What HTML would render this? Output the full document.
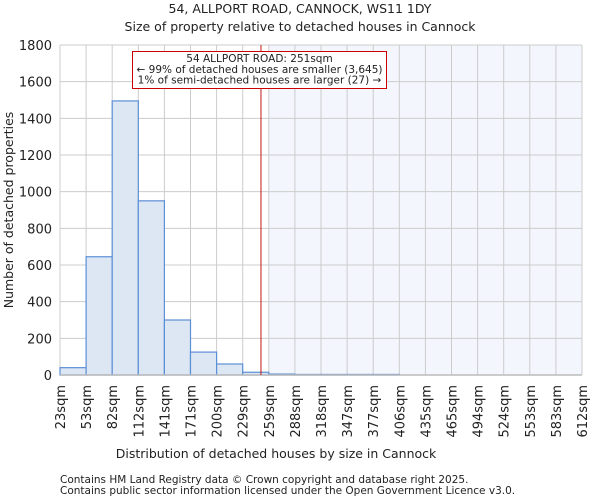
<!DOCTYPE html>
<html><head><meta charset="utf-8"><style>
body{margin:0;background:#fff;font-family:"DejaVu Sans","Liberation Sans",sans-serif}
svg text{font-family:"DejaVu Sans","Liberation Sans",sans-serif;fill:#222}
</style></head><body>
<svg id="c" width="600" height="500">
<text x="300" y="13" text-anchor="middle" font-size="12.5">54, ALLPORT ROAD, CANNOCK, WS11 1DY</text>
<text x="300" y="31" text-anchor="middle" font-size="12.5">Size of property relative to detached houses in Cannock</text>
<g id="plot"></g>
<text x="276" y="458" text-anchor="middle" font-size="12.5">Distribution of detached houses by size in Cannock</text>
<text transform="translate(13,210) rotate(-90)" text-anchor="middle" font-size="12.5" fill="#444">Number of detached properties</text>
<text x="60" y="483" font-size="10.5" fill="#444">Contains HM Land Registry data © Crown copyright and database right 2025.</text>
<text x="60" y="494" font-size="10.5" fill="#444">Contains public sector information licensed under the Open Government Licence v3.0.</text>
</svg>
<script>
const categories=["23sqm","53sqm","82sqm","112sqm","141sqm","171sqm","200sqm","229sqm","259sqm","288sqm","318sqm","347sqm","377sqm","406sqm","435sqm","465sqm","494sqm","524sqm","553sqm","583sqm","612sqm"];
const counts=[40,645,1495,950,300,125,60,15,5,3,3,3,3,0,0,0,0,0,0,0];
const yTicks=[0,200,400,600,800,1000,1200,1400,1600,1800];
const markerBin=7.7;
const highlightFromBin=8;
const NS="http://www.w3.org/2000/svg";
const X0=60,X1=582,YT=45,YB=375,YMAX=1800;
const bw=(X1-X0)/counts.length;
const xs=i=>X0+i*bw;
const ys=v=>YB-v/YMAX*(YB-YT);
const g=document.getElementById('plot');
function mk(t,a){const e=document.createElementNS(NS,t);for(const k in a)e.setAttribute(k,a[k]);g.appendChild(e);return e;}
let e=mk('rect',{x:xs(highlightFromBin),y:YT,width:X1-xs(highlightFromBin),height:YB-YT,fill:'#f3f6fd'});


for(let i=0;i<=categories.length-1;i++){
 e=mk('line',{x1:xs(i),x2:xs(i),y1:YT,y2:YB,stroke:'#ccc','stroke-width':1});
 
 
}
yTicks.forEach(t=>{
 e=mk('line',{x1:X0,x2:X1,y1:ys(t),y2:ys(t),stroke:'#ccc','stroke-width':1});
 
 
 e=mk('text',{x:X0-8,y:ys(t)+5,'text-anchor':'end','font-size':'13'});e.textContent=t;
 
 
});
counts.forEach((v,i)=>{
 if(v<=0)return;
 e=mk('rect',{x:xs(i),y:ys(v),width:bw,height:YB-ys(v),fill:'#dde6f3',stroke:'#5b8fd6','stroke-width':1.2});
 
 
});
e=mk('line',{x1:X0,x2:X1,y1:YB,y2:YB,stroke:'#bbb','stroke-width':1.5});


categories.forEach((c,i)=>{
 e=mk('text',{transform:`translate(${xs(i)+5},385) rotate(-90)`,'text-anchor':'end','font-size':'13'});e.textContent=c;
 
 
});
const mx=xs(markerBin);
e=mk('line',{x1:mx,x2:mx,y1:YT,y2:YB,stroke:'#b00','stroke-width':0.9});


e=mk('rect',{x:132.5,y:51.5,width:254,height:37,fill:'#fff',stroke:'#c00','stroke-width':1});


["54 ALLPORT ROAD: 251sqm","← 99% of detached houses are smaller (3,645)","1% of semi-detached houses are larger (27) →"].forEach((s,k)=>{
 e=mk('text',{x:259.5,y:62+k*10.8,'text-anchor':'middle','font-size':'10.5'});e.textContent=s;
 
 
});
</script>
</body></html>
